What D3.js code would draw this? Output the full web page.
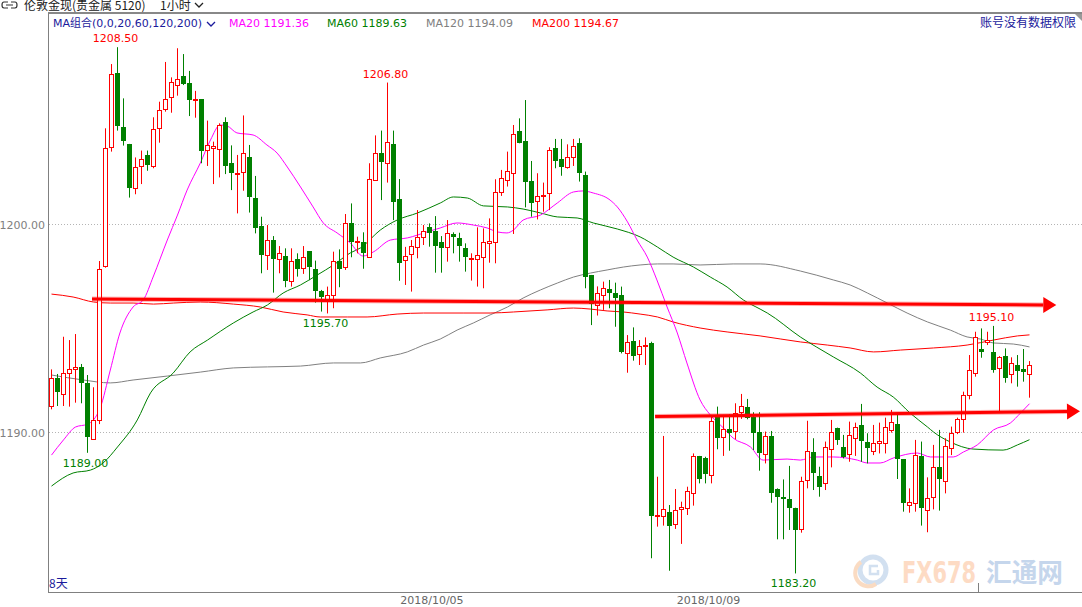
<!DOCTYPE html>
<html>
<head>
<meta charset="utf-8">
<script src="https://cdn.jsdelivr.net/npm/d3@7"></script>
<style>
body { margin: 0; background: #fff; }
svg { display: block; font-family: "DejaVu Sans", "Noto Sans CJK SC", sans-serif; }
</style>
</head>
<body>
<script>
// 1 hour candles (index 0 = first candle on the left)
let opens = [1191.25,1192.58,1191.81,1192.85,1193.01,1193.11,1192.37,1189.68,1190.58,1198.0,
  1203.69,1207.24,1204.65,1203.85,1201.71,1202.79,1203.3,1202.79,1204.6,1205.52,
  1206.09,1206.67,1207.12,1206.76,1205.98,1205.99,1203.56,1203.67,1203.62,1204.9,
  1202.92,1202.39,1202.48,1203.21,1201.25,1199.9,1198.49,1199.22,1198.3,1198.46,
  1197.28,1198.3,1197.87,1198.7,1197.82,1196.8,1196.38,1196.59,1198.24,1197.92,
  1200.03,1199.13,1199.13,1198.4,1202.12,1203.4,1202.92,1203.85,1201.19,1198.27,
  1198.56,1198.88,1199.36,1199.84,1199.68,1199.15,1198.91,1199.52,1199.33,1198.83,
  1198.33,1198.32,1198.43,1199.07,1199.15,1201.55,1202.12,1202.44,1204.49,1203.99,
  1202.07,1201.12,1201.35,1201.51,1203.67,1203.13,1202.76,1203.21,1203.88,1202.36,
  1197.55,1196.12,1196.59,1196.86,1196.7,1196.59,1193.81,1194.37,1193.73,1194.17,
  1194.26,1185.95,1185.98,1186.14,1185.56,1186.3,1186.33,1187.05,1188.85,1188.73,
  1187.93,1190.82,1189.74,1190.13,1190.05,1190.95,1191.19,1190.74,1190.02,1188.94,
  1189.81,1187.24,1186.89,1186.78,1186.33,1185.32,1187.69,1189.05,1187.9,1187.53,
  1189.17,1190.18,1189.26,1188.93,1189.7,1190.34,1189.54,1189.09,1189.46,1189.46,
  1190.1,1190.37,1188.7,1186.49,1186.6,1188.85,1186.25,1186.86,1188.3,1187.64,
  1189.21,1190.02,1190.61,1191.78,1192.85,1193.99,1194.33,1193.86,1193.06,1193.65,
  1192.77,1193.22,1193.03,1192.77];
let highs = [1193.01,1192.79,1194.58,1194.42,1194.71,1193.27,1192.74,1192.15,1198.22,1204.6,
  1207.69,1208.5,1206.04,1203.85,1203.2,1203.53,1203.53,1205.13,1205.88,1207.79,
  1207.05,1208.45,1208.17,1207.36,1206.4,1206.0,1204.97,1203.96,1204.84,1205.13,
  1203.78,1203.32,1205.22,1203.8,1202.31,1200.35,1199.95,1199.42,1198.94,1198.83,
  1198.83,1198.59,1198.94,1198.7,1198.24,1196.83,1196.99,1198.67,1198.78,1200.48,
  1200.99,1199.39,1199.6,1202.92,1204.26,1204.49,1206.8,1204.49,1202.16,1198.9,
  1199.23,1200.67,1199.95,1200.03,1200.38,1199.42,1200.19,1199.6,1199.58,1199.07,
  1198.59,1199.84,1199.79,1200.27,1202.15,1202.6,1203.48,1204.76,1205.08,1205.96,
  1203.03,1202.44,1201.99,1203.69,1204.09,1204.09,1203.83,1204.09,1204.12,1202.52,
  1197.55,1197.0,1197.23,1197.31,1197.18,1196.99,1194.66,1195.03,1194.42,1194.55,
  1194.34,1187.85,1189.81,1186.49,1187.26,1186.65,1187.37,1188.97,1188.85,1188.81,
  1190.77,1191.22,1190.82,1190.85,1191.38,1191.83,1191.59,1190.95,1190.95,1190.02,
  1190.05,1187.29,1187.72,1188.37,1186.36,1187.85,1190.54,1189.7,1188.33,1189.54,
  1190.58,1190.21,1189.86,1190.5,1190.45,1191.35,1189.94,1190.34,1190.45,1190.69,
  1191.06,1190.85,1188.7,1187.29,1189.62,1189.54,1187.82,1189.38,1190.1,1189.7,
  1190.26,1190.69,1191.94,1193.7,1194.82,1194.98,1194.82,1195.1,1193.65,1194.02,
  1193.59,1193.7,1193.99,1193.41];
let lows = [1191.09,1191.25,1191.25,1191.22,1191.41,1191.38,1189.0,1189.62,1190.38,1197.9,
  1203.48,1204.49,1203.77,1201.27,1201.43,1201.92,1202.56,1202.68,1203.91,1205.4,
  1205.35,1206.17,1206.68,1205.19,1205.11,1202.92,1202.79,1201.92,1202.24,1202.4,
  1201.63,1200.51,1201.6,1200.55,1199.55,1197.63,1197.79,1196.7,1197.63,1196.96,
  1196.99,1197.47,1197.6,1197.3,1196.22,1195.79,1195.7,1195.95,1196.96,1197.79,
  1198.4,1198.59,1197.85,1198.4,1202.1,1201.15,1201.99,1200.19,1197.27,1197.07,
  1196.75,1198.35,1198.99,1198.91,1197.66,1197.66,1198.19,1198.59,1198.19,1197.71,
  1197.28,1196.99,1196.91,1198.14,1198.11,1201.35,1201.8,1199.52,1203.88,1200.8,
  1200.35,1200.22,1200.59,1200.67,1202.68,1202.32,1202.66,1202.79,1202.04,1196.91,
  1195.14,1195.6,1195.87,1195.95,1195.06,1193.78,1192.85,1193.43,1193.22,1193.22,
  1183.93,1185.45,1185.5,1183.33,1185.34,1184.62,1186.01,1186.46,1187.53,1187.53,
  1187.53,1189.17,1188.85,1189.1,1189.65,1190.63,1190.61,1189.13,1188.14,1188.49,
  1186.6,1184.84,1184.84,1185.29,1183.2,1185.16,1187.29,1187.21,1186.89,1187.21,
  1188.3,1189.38,1188.73,1188.57,1188.85,1188.57,1188.49,1188.89,1188.97,1188.97,
  1189.97,1187.74,1186.17,1186.12,1186.17,1185.5,1185.18,1186.28,1186.22,1187.05,
  1188.89,1189.9,1189.97,1191.57,1192.66,1193.57,1194.18,1192.85,1190.93,1192.37,
  1192.34,1192.18,1192.42,1191.65];
let closes = [1192.58,1191.94,1192.82,1193.01,1193.11,1192.34,1189.74,1190.58,1197.82,1203.64,
  1207.21,1204.73,1204.01,1201.75,1202.72,1203.11,1202.85,1204.55,1205.47,1206.0,
  1206.81,1206.96,1206.72,1205.96,1206.0,1203.53,1203.78,1203.77,1204.78,1202.8,
  1202.44,1202.47,1203.4,1201.31,1199.82,1198.51,1199.22,1198.33,1198.59,1197.28,
  1198.22,1197.82,1198.43,1197.92,1196.8,1196.5,1196.6,1198.24,1197.85,1200.03,
  1199.15,1199.17,1198.59,1202.15,1203.4,1203.0,1203.93,1201.06,1198.11,1198.46,
  1198.96,1199.39,1199.68,1199.58,1198.96,1198.83,1199.55,1199.36,1198.96,1198.4,
  1198.37,1198.51,1199.12,1199.17,1201.55,1202.2,1202.55,1204.31,1203.91,1202.04,
  1201.03,1201.35,1201.38,1203.56,1203.05,1202.72,1203.21,1203.77,1202.44,1197.47,
  1196.14,1196.67,1196.91,1196.67,1196.43,1193.86,1194.31,1193.67,1194.15,1194.2,
  1185.98,1186.0,1186.28,1185.5,1186.25,1186.41,1187.15,1188.85,1187.72,1187.96,
  1190.53,1189.7,1190.13,1189.97,1190.9,1191.25,1190.66,1189.97,1189.01,1189.81,
  1187.08,1186.86,1186.76,1186.33,1185.29,1187.64,1189.1,1188.04,1187.37,1189.29,
  1190.02,1189.62,1188.81,1189.86,1190.22,1189.58,1189.25,1189.46,1189.57,1190.26,
  1190.5,1188.69,1186.6,1186.65,1188.89,1186.33,1186.81,1188.3,1187.72,1189.33,
  1189.94,1190.61,1191.78,1192.98,1194.55,1193.86,1194.42,1192.98,1193.59,1192.61,
  1193.3,1192.95,1192.9,1193.22];

// moving averages, [candle index, value]
let ma20Pts = [[0,1188.89],[2,1189.62],[4,1190.24],[6,1190.38],[7,1190.58],[8.1,1191.15],[9.8,1192.98],
  [11.4,1194.76],[13.6,1196.01],[15.3,1196.35],[17,1197.5],[19.3,1199.23],[21,1200.43],[22.6,1201.63],
  [24.8,1202.93],[26.5,1204.04],[28.1,1204.76],[29.3,1204.71],[30.9,1204.38],[33.6,1204.28],[35.9,1203.8],
  [37.6,1203.41],[39.3,1202.74],[41.5,1201.78],[43.6,1200.82],[45.3,1200.05],[47.6,1199.57],[49.8,1199.09],
  [51.9,1198.46],[53.6,1198.65],[56.5,1199.23],[59.3,1199.33],[62.6,1199.62],[64.8,1199.81],[67.6,1200.05],
  [70.3,1199.95],[72.6,1199.81],[74.3,1199.62],[75.9,1199.57],[77,1199.71],[78.6,1200.19],[81.5,1200.43],
  [84.3,1201.01],[87,1201.54],[88.6,1201.59],[90.3,1201.49],[93.1,1201.15],[94.3,1200.82],[96,1200.1],
  [97.6,1199.23],[99.3,1198.41],[100.9,1197.31],[102.6,1196.01],[104.3,1194.76],[105.9,1193.32],
  [108.1,1191.54],[109.8,1190.82],[112,1190.19],[113.6,1189.71],[116.5,1189.28],[118.6,1188.65],
  [122.6,1188.7],[124.8,1188.65],[127,1188.8],[130.3,1188.8],[134.3,1188.65],[136,1188.51],[138.1,1188.51],
  [140.3,1188.75],[144.3,1188.99],[146.5,1188.8],[150.3,1188.8],[152,1189.04],[154.3,1189.38],
  [157,1190.1],[159.8,1190.43],[161.5,1190.91],[163,1191.36]];
let ma60Pts = [[0,1187.4],[3.6,1188.03],[6.5,1188.17],[8.6,1188.51],[11,1189.28],[14.3,1190.58],
  [16.5,1191.88],[20.3,1192.84],[23.1,1193.85],[26,1194.42],[30.3,1195.24],[33.6,1195.77],[36,1196.11],
  [38.6,1196.68],[41.5,1197.07],[44.3,1197.55],[47,1198.03],[49.8,1198.61],[51.5,1198.85],[54.8,1199.71],
  [57.6,1200.19],[61,1200.53],[64.8,1201.01],[67,1201.3],[69.3,1201.25],[72,1200.87],[76,1200.82],
  [78.6,1200.72],[81.5,1200.53],[84.3,1200.34],[87.6,1200.29],[90.3,1200.05],[94.3,1199.76],[98.1,1199.38],
  [101,1198.89],[103.6,1198.41],[107,1197.93],[109.8,1197.45],[112.6,1196.97],[115.3,1196.35],
  [118.1,1195.91],[119.3,1195.72],[124.8,1194.57],[130.3,1193.61],[134.8,1192.84],[137.6,1192.16],
  [140.3,1191.68],[143.1,1190.91],[146,1190.24],[147,1190.0],[149.8,1189.52],[153.6,1189.18],
  [158.6,1189.13],[161,1189.38],[163,1189.63]];
let ma120Pts = [[0,1192.74],[5.3,1192.5],[9.8,1192.36],[13.6,1192.5],[19.3,1192.69],[24.8,1192.88],
  [30.3,1193.08],[36,1193.13],[41.5,1193.17],[47,1193.32],[51.5,1193.32],[54.8,1193.56],[59.3,1193.85],
  [62,1194.18],[64.8,1194.47],[67.6,1194.9],[70.3,1195.24],[73.1,1195.63],[76,1196.01],[78.6,1196.44],
  [81.5,1196.83],[84.3,1197.16],[87,1197.45],[89.8,1197.64],[92.6,1197.79],[95.3,1197.93],[98.1,1198.03],
  [101,1198.08],[103.6,1198.08],[108.1,1198.03],[113.6,1198.08],[118.1,1198.08],[124.8,1197.74],
  [130.3,1197.31],[133.1,1197.07],[136,1196.68],[139.3,1196.2],[142.6,1195.72],[146,1195.29],
  [149.8,1194.9],[152.6,1194.57],[154.8,1194.47],[157,1194.28],[160.3,1194.23],[163,1194.09]];
let ma200Pts = [[0,1196.63],[3.6,1196.49],[7,1196.25],[9.8,1196.2],[13.6,1196.2],[17,1196.15],
  [20.3,1196.2],[24.8,1196.25],[30.3,1196.15],[34.8,1196.01],[38.6,1195.77],[42.6,1195.63],[44.8,1195.53],
  [49.3,1195.53],[52.6,1195.53],[57.6,1195.67],[62,1195.72],[68.6,1195.72],[73.1,1195.72],[77,1195.77],
  [82.6,1195.87],[87,1195.96],[89.8,1195.91],[92.6,1195.82],[95.3,1195.77],[98.1,1195.67],[101,1195.53],
  [103.6,1195.29],[108.1,1195.0],[112.6,1194.81],[118.1,1194.62],[124.8,1194.33],[129.3,1194.18],
  [133.1,1194.04],[137,1193.85],[141.5,1193.94],[147,1194.04],[152.6,1194.18],[157,1194.42],
  [161,1194.62],[163,1194.67]];

let maNames = ["MA20", "MA60", "MA120", "MA200"];
let maLast = ["1191.36", "1189.63", "1194.09", "1194.67"];

// hand drawn arrows: start index/value, end index/value (end = arrow head base)
let arrows = [
  {i0: 6.75, v0: 1196.39, i1: 165.3, v1: 1196.11},
  {i0: 100.6, v0: 1190.74, i1: 169.25, v1: 1190.99}
];

// marked highs and lows
let marks = [
  {i: 11, type: "high"}, {i: 56, type: "high"}, {i: 157, type: "high"},
  {i: 6, type: "low"}, {i: 46, type: "low"}, {i: 124, type: "low"}
];

let yTicks = [1190, 1200];
let dateLabels = [{i: 63.4, text: "2018/10/05"}, {i: 109.5, text: "2018/10/09"}];
let dayTicks = [154.4];

let W = 1082, H = 607;
let plotL = 48, plotT = 13, plotB = 592;

let x = d3.scaleLinear().domain([0, 163]).range([51.5, 1029.5]);
let y = d3.scaleLinear().domain([1190, 1200]).range([432, 224]);

let upColor = "#ff0000", downColor = "#008000";
let maColors = ["#ff00ff", "#008000", "#808080", "#ff0000"];

let svg = d3.select("body").append("svg")
    .attr("width", W)
    .attr("height", H);

// frame
svg.append("line").attr("x1", plotL).attr("x2", W).attr("y1", plotT).attr("y2", plotT)
    .attr("stroke", "#888").attr("stroke-width", 2);
svg.append("line").attr("x1", plotL + 0.5).attr("x2", plotL + 0.5).attr("y1", plotT).attr("y2", plotB)
    .attr("stroke", "#808080");
svg.append("line").attr("x1", plotL).attr("x2", W).attr("y1", plotB + 0.5).attr("y2", plotB + 0.5)
    .attr("stroke", "#808080");
svg.append("path").attr("d", "M1075,14 L1082,14 L1082,21 Z").attr("fill", "#999");

// grid + y labels
yTicks.forEach(function(t) {
    let yy = Math.round(y(t)) + 0.5;
    svg.append("line").attr("x1", plotL + 1).attr("x2", W).attr("y1", yy).attr("y2", yy)
        .attr("stroke", "#b4b4b4").attr("stroke-dasharray", "1,2");
    svg.append("text").attr("x", 45).attr("y", yy + 4)
        .attr("text-anchor", "end").attr("fill", "#808080")
        .style("font-size", "11px").text(t.toFixed(2));
});

// date labels
dateLabels.forEach(function(d) {
    svg.append("text").attr("x", x(d.i)).attr("y", 604)
        .attr("text-anchor", "middle").attr("fill", "#666")
        .style("font-size", "11px").text(d.text);
});
dayTicks.forEach(function(d) {
    let xx = Math.round(x(d)) + 0.5;
    svg.append("line").attr("x1", xx).attr("x2", xx).attr("y1", 583).attr("y2", plotB)
        .attr("stroke", "#808080");
});

// watermark
let wm = svg.append("g").attr("opacity", 0.45);
wm.append("circle").attr("cx", 873).attr("cy", 570).attr("r", 13)
    .attr("fill", "none").attr("stroke", "#9dbbe0").attr("stroke-width", 5);
wm.append("path").attr("d", "M861,562 A13,13 0 0,0 876,584")
    .attr("fill", "none").attr("stroke", "#f6b07a").attr("stroke-width", 4);
wm.append("path").attr("d", "M878,566 L870,566 L870,574 L878,574 L878,570")
    .attr("fill", "none").attr("stroke", "#9dbbe0").attr("stroke-width", 2.5);
wm.append("text").attr("x", 902).attr("y", 583)
    .attr("textLength", 74).attr("lengthAdjust", "spacingAndGlyphs")
    .attr("fill", "#fbb07e").style("font-size", "31px").style("font-weight", "bold")
    .text("FX678");
wm.append("text").attr("x", 986).attr("y", 582)
    .attr("textLength", 77).attr("lengthAdjust", "spacingAndGlyphs")
    .attr("fill", "#7fa6d6").style("font-size", "26px").style("font-weight", "bold")
    .style("font-family", "'Noto Sans CJK SC'")
    .text("汇通网");

// moving average lines
let maLine = d3.line()
    .x(d => x(d[0]))
    .y(d => y(d[1]))
    .curve(d3.curveMonotoneX);

[ma120Pts, ma200Pts, ma60Pts, ma20Pts].forEach(function(pts, k) {
    let col = [maColors[2], maColors[3], maColors[1], maColors[0]][k];
    svg.append("path").datum(pts)
        .attr("d", maLine)
        .attr("fill", "none")
        .attr("stroke", col)
        .attr("stroke-width", 1);
});

// candles
let candles = opens.map((o, i) => ({i: i, o: o, h: highs[i], l: lows[i], c: closes[i]}));

let cg = svg.append("g");
candles.forEach(function(d) {
    let cx = x(d.i);
    let up = d.c >= d.o;
    let col = up ? upColor : downColor;
    cg.append("line")
        .attr("x1", cx).attr("x2", cx)
        .attr("y1", y(d.h)).attr("y2", y(d.l))
        .attr("stroke", col).attr("stroke-width", 1);
    let yTop = Math.round(y(Math.max(d.o, d.c)));
    let yBot = Math.round(y(Math.min(d.o, d.c)));
    if (up) {
        cg.append("rect")
            .attr("x", cx - 2).attr("y", yTop + 0.5)
            .attr("width", 4).attr("height", Math.max(1, yBot - yTop))
            .attr("fill", "#fff").attr("stroke", col).attr("stroke-width", 1);
    } else {
        cg.append("rect")
            .attr("x", cx - 2.5).attr("y", yTop)
            .attr("width", 5).attr("height", Math.max(1, yBot - yTop))
            .attr("fill", col);
    }
});

// high / low marks
marks.forEach(function(m) {
    let hi = m.type == "high";
    let v = hi ? highs[m.i] : lows[m.i];
    svg.append("text")
        .attr("x", x(m.i) - 2)
        .attr("y", hi ? y(v) - 5 : y(v) + 14)
        .attr("text-anchor", "middle")
        .attr("fill", hi ? "#ff0000" : "#008000")
        .style("font-size", "11px")
        .text(v.toFixed(2));
});

// arrows
arrows.forEach(function(a) {
    let x0 = x(a.i0), y0 = y(a.v0), x1 = x(a.i1), y1 = y(a.v1);
    svg.append("line").attr("x1", x0).attr("y1", y0).attr("x2", x1).attr("y2", y1)
        .attr("stroke", "rgba(255,0,0,0.3)").attr("stroke-width", 5);
    svg.append("line").attr("x1", x0).attr("y1", y0).attr("x2", x1).attr("y2", y1)
        .attr("stroke", "#ff0000").attr("stroke-width", 3);
    let ang = Math.atan2(y1 - y0, x1 - x0);
    let len = 13, half = 8;
    let tx = x1 + len * Math.cos(ang), ty = y1 + len * Math.sin(ang);
    let bx1 = x1 - half * Math.sin(ang), by1 = y1 + half * Math.cos(ang);
    let bx2 = x1 + half * Math.sin(ang), by2 = y1 - half * Math.cos(ang);
    svg.append("path")
        .attr("d", "M" + bx1 + "," + by1 + "L" + tx + "," + ty + "L" + bx2 + "," + by2 + "Z")
        .attr("fill", "#ff0000");
});

// header
svg.append("path").attr("d", "M8,2 H4 Q2,2 2,5 Q2,8 4,8 H8 M11,2 H15 Q17,2 17,5 Q17,8 15,8 H11 M6,5 H13")
    .attr("fill", "none").attr("stroke", "#333").attr("stroke-width", 1.2);
svg.append("text").attr("x", 24).attr("y", 10).attr("fill", "#222")
    .style("font-size", "12px").style("font-family", "'Noto Sans CJK SC'")
    .text("伦敦金现(贵金属 5120)");
svg.append("text").attr("x", 160).attr("y", 10).attr("fill", "#222")
    .style("font-size", "12px").style("font-family", "'Noto Sans CJK SC'")
    .text("1小时");
svg.append("path").attr("d", "M195,3 L199,7 L203,3").attr("fill", "none").attr("stroke", "#222").attr("stroke-width", 1.3);

svg.append("text").attr("x", 53).attr("y", 27).attr("fill", "#1a1a9c")
    .style("font-size", "11px")
    .text("MA组合(0,0,20,60,120,200)");
svg.append("path").attr("d", "M207,22 L211,26 L215,22").attr("fill", "none").attr("stroke", "#1a1a9c").attr("stroke-width", 1.3);

let maX = [229, 327, 426, 532];
maNames.forEach(function(n, k) {
    svg.append("text").attr("x", maX[k]).attr("y", 27).attr("fill", maColors[k])
        .style("font-size", "11px").text(n + " " + maLast[k]);
});

svg.append("text").attr("x", 1076).attr("y", 27).attr("text-anchor", "end")
    .attr("fill", "#1a1a9c").style("font-size", "12px").style("font-family", "'Noto Sans CJK SC'")
    .text("账号没有数据权限");

svg.append("text").attr("x", 49).attr("y", 588).attr("fill", "#1a1a9c")
    .style("font-size", "12px").style("font-family", "'Noto Sans CJK SC'")
    .text("8天");
</script>
</body>
</html>
